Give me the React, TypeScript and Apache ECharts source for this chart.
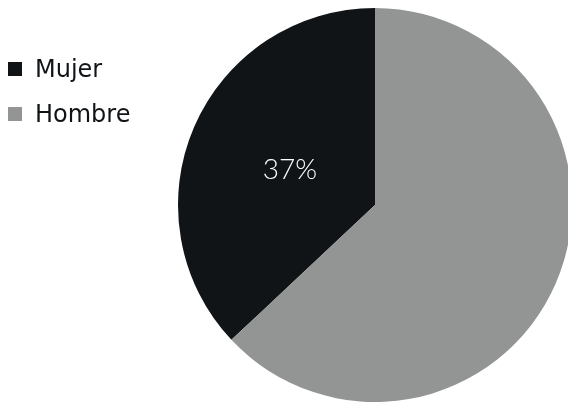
import React, { useEffect, useRef } from "react";
import * as echarts from "echarts";

const categories = ["Mujer", "Hombre"];
const values = [37, 63];
const colors = ["#111417", "#939594"];

export default function App() {
  const ref = useRef<HTMLDivElement>(null);
  useEffect(() => {
    if (!ref.current) return;
    const chart = echarts.init(ref.current, undefined, { renderer: "svg" });
    chart.setOption({
      animation: false,
      legend: {
        orient: "vertical",
        left: 3,
        top: 52,
        icon: "rect",
        itemWidth: 14,
        itemHeight: 14,
        itemGap: 21,
        data: categories,
        textStyle: { fontFamily: "DejaVu Sans", fontSize: 24, color: "#111417", padding: [0, 0, 0, 8] },
      },
      series: [
        {
          type: "pie",
          center: [375, 205],
          radius: 197,
          startAngle: 90,
          clockwise: false,
          data: categories.map((c, i) => ({
            name: c,
            value: values[i],
            itemStyle: { color: colors[i] },
            label: {
              show: i === 0,
              position: "inside",
              formatter: "{c}%",
              color: "#ffffff",
              fontSize: 28,
              fontWeight: 300,
              fontFamily: "Lato",
              offset: [8, 3],
            },
          })),
          labelLine: { show: false },
          emphasis: { disabled: true },
        },
      ],
    });
    return () => chart.dispose();
  }, []);
  return (
    <div
      ref={ref}
      style={{ position: "fixed", left: 0, top: 0, width: 568, height: 402 }}
    />
  );
}
